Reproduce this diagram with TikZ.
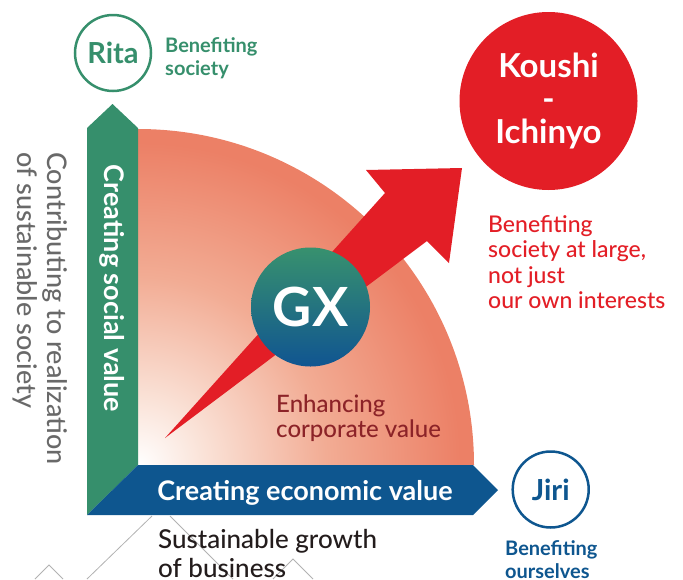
\documentclass[tikz,border=0pt]{standalone}
\usepackage{fontspec}
\setmainfont{Lato}
\newfontfamily\latomed{Lato Medium}
\definecolor{grn}{RGB}{54,143,108}
\definecolor{blu}{RGB}{14,86,143}
\definecolor{rd}{RGB}{227,30,38}
\definecolor{salm}{RGB}{236,128,102}
\definecolor{salmmid}{RGB}{242,172,148}
\definecolor{salmlt}{RGB}{250,226,215}
\definecolor{drd}{RGB}{140,35,40}
\definecolor{gtxt}{RGB}{105,105,105}
\definecolor{btxt}{RGB}{35,28,28}
\definecolor{gline}{RGB}{178,178,178}
\definecolor{gxg}{RGB}{56,145,110}
\definecolor{gxb}{RGB}{16,85,145}
\pgfdeclareradialshading{quartshade}{\pgfpoint{0bp}{0bp}}{color(0bp)=(white); color(5bp)=(salmlt); color(14bp)=(salmmid); color(24bp)=(salm); color(50bp)=(salm)}
\newcommand{\myfs}[2]{\fontsize{#1}{#2}\selectfont}
\begin{document}
\begin{tikzpicture}[x=1pt,y=1pt,
  ring/.style={circle, draw, line width=2.5pt, minimum size=76pt, inner sep=0pt, font=\bfseries\myfs{29}{29}},
  lbl/.style={anchor=base west, align=left, inner sep=0pt},
  bartext/.style={anchor=base, inner sep=0pt, text=white, font=\bfseries\myfs{27}{27}},
  deco/.style={draw=gline, line width=0.8pt}
]
\useasboundingbox (0,0) rectangle (683,-579);

% decorative lines
\coordinate (a1) at (152,-516); \coordinate (a2) at (87,-579);
\coordinate (b1) at (170,-516); \coordinate (b2) at (233,-579);
\coordinate (c0) at (35,-579); \coordinate (c1) at (49,-565); \coordinate (c2) at (63,-579);
\coordinate (d0) at (273,-579); \coordinate (d1) at (293,-559); \coordinate (d2) at (313,-579);
\draw[deco] (a1) -- (a2);
\draw[deco] (b1) -- (b2);
\draw[deco] (c0) -- (c1) -- (c2);
\draw[deco] (d0) -- (d1) -- (d2);

% quarter disc
\begin{scope}
  \clip (138,-465) -- (138,-129) arc[start angle=90, end angle=0, radius=336] -- cycle;
  \shade[shading=quartshade] (138,-465) circle (336);
\end{scope}

% green arrow
\fill[grn] (87,-515) -- (87,-128) -- (112.5,-104) -- (138,-128) -- (138,-465) -- cycle;
% blue arrow
\fill[blu] (87,-515) -- (138,-465) -- (473,-465) -- (498,-490) -- (473,-515) -- cycle;
% red arrow
\fill[rd] (165,-438) -- (385,-193) -- (366,-170) -- (462,-168) -- (449,-263) -- (427,-241) -- cycle;

% GX
\node[circle, minimum size=119pt, inner sep=0pt, top color=gxg, bottom color=gxb, text=white, font=\bfseries\myfs{54}{54}] (gx) at (310.5,-307) {GX};

% circles
\node[ring, draw=grn, text=grn] (rita) at (113,-53) {Rita};
\node[ring, draw=blu, text=blu] (jiri) at (550.7,-489.5) {Jiri};
\node[circle, fill=rd, minimum size=178pt, inner sep=0pt, text=white, align=center, font=\bfseries\myfs{33}{33}] (koushi) at (548.5,-101) {Koushi\\-\\Ichinyo};

% texts (anchor = baseline of last line)
\node[lbl, text=grn, font=\bfseries\myfs{20}{23}] (ritatxt) at (165,-75) {Benefiting\\society};
\node[lbl, text=blu, font=\bfseries\myfs{20}{23}] (jiritxt) at (505,-578) {Benefiting\\ourselves};
\node[lbl, text=rd, font=\latomed\myfs{23}{25.5}] (koushitxt) at (488,-308.5) {Benefiting\\society at large,\\not just\\our own interests};
\node[lbl, text=drd, font=\latomed\myfs{24}{25}] (enh) at (276,-437) {Enhancing\\corporate value};
\node[lbl, text=btxt, font=\latomed\myfs{26}{29}] (sus) at (158,-577) {Sustainable growth\\of business};
\node[lbl, text=gtxt, font=\latomed\myfs{27}{30}, rotate=-90] (contrib) at (17,-152) {Contributing to realization\\of sustainable society};

\node[bartext, rotate=-90] (social) at (104,-288.5) {Creating social value};
\node[bartext] (econ) at (305,-500) {Creating economic value};
\end{tikzpicture}
\end{document}
